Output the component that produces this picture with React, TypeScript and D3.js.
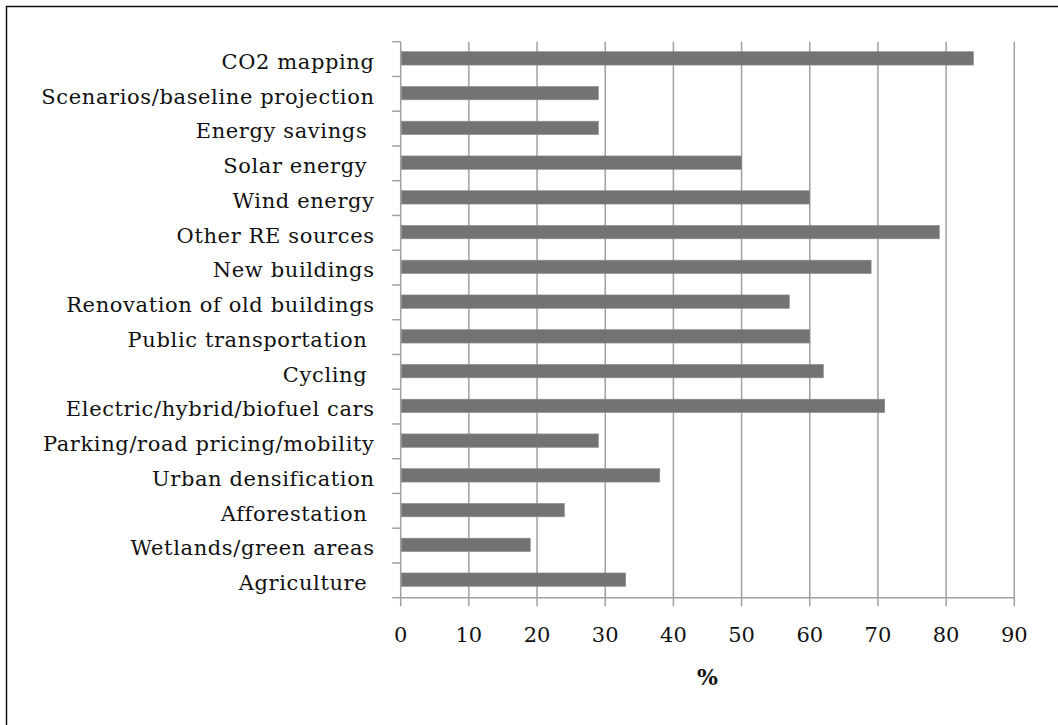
import React, { useEffect, useRef } from "react";
import * as d3 from "d3";

const categories = [
  "CO2 mapping",
  "Scenarios/baseline projection",
  "Energy savings ",
  "Solar energy ",
  "Wind energy",
  "Other RE sources",
  "New buildings",
  "Renovation of old buildings",
  "Public transportation ",
  "Cycling ",
  "Electric/hybrid/biofuel cars",
  "Parking/road pricing/mobility",
  "Urban densification",
  "Afforestation ",
  "Wetlands/green areas",
  "Agriculture ",
];
const values = [84, 29, 29, 50, 60, 79, 69, 57, 60, 62, 71, 29, 38, 24, 19, 33];
const xTicks = [0, 10, 20, 30, 40, 50, 60, 70, 80, 90];
const xLabel = "%";

const W = 1058;
const H = 725;
const M = { left: 400.7, right: 1014.3, top: 41.7, bottom: 597.7 };
const FONT = "'DejaVu Serif', serif";

export default function App() {
  const ref = useRef<SVGSVGElement>(null);
  useEffect(() => {
    const svg = d3.select(ref.current);
    svg.selectAll("*").remove();

    const x = d3.scaleLinear().domain([0, 90]).range([M.left, M.right]);
    const y = d3.scaleBand<string>().domain(categories).range([M.top, M.bottom]).paddingInner(0).paddingOuter(0);
    const bw = y.bandwidth();
    const barH = bw * 0.385;
    const grid = "#a0a0a0";

    // frame
    svg.append("path").attr("d", `M6.5,${H + 5} V6.5 H${W + 5}`).attr("fill", "none").attr("stroke", "#111").attr("stroke-width", 1.5);

    // gridlines
    svg.append("g").selectAll("line").data(xTicks).join("line")
      .attr("x1", (d) => x(d)).attr("x2", (d) => x(d))
      .attr("y1", M.top).attr("y2", M.bottom + 8.5)
      .attr("stroke", grid).attr("stroke-width", 1.5);

    // y axis ticks (band boundaries)
    const bounds = d3.range(categories.length + 1).map((i) => M.top + i * bw);
    svg.append("g").selectAll("line").data(bounds).join("line")
      .attr("x1", M.left - 8.5).attr("x2", M.left)
      .attr("y1", (d) => d).attr("y2", (d) => d)
      .attr("stroke", grid).attr("stroke-width", 1.5);

    // x axis line
    svg.append("line").attr("x1", M.left).attr("x2", M.right)
      .attr("y1", M.bottom).attr("y2", M.bottom)
      .attr("stroke", grid).attr("stroke-width", 1.5);

    // bars
    svg.append("g").selectAll("rect").data(values).join("rect")
      .attr("x", x(0) + 0.75)
      .attr("y", (_d, i) => (y(categories[i]) as number) + bw / 2 - barH / 2 - 0.7)
      .attr("width", (d) => x(d) - x(0) - 0.75)
      .attr("height", barH)
      .attr("fill", "#737373")
      .attr("stroke", "#8c8c8c")
      .attr("stroke-width", 0.6);

    // category labels
    svg.append("g").selectAll("text").data(categories).join("text")
      .attr("x", 374.6)
      .attr("y", (d) => (y(d) as number) + bw / 2 + 9.7)
      .attr("text-anchor", "end")
      .style("white-space", "pre")
      .attr("letter-spacing", 0.62)
      .attr("font-family", FONT)
      .attr("font-size", 21)
      .attr("fill", "#111")
      .text((d) => d);

    // x tick labels
    svg.append("g").selectAll("text").data(xTicks).join("text")
      .attr("x", (d) => x(d))
      .attr("y", 641.5)
      .attr("text-anchor", "middle")
      .attr("font-family", FONT)
      .attr("font-size", 21)
      .attr("fill", "#111")
      .text((d) => String(d));

    svg.append("text")
      .attr("x", (M.left + M.right) / 2)
      .attr("y", 685)
      .attr("text-anchor", "middle")
      .attr("font-family", FONT)
      .attr("font-size", 22)
      .attr("font-weight", "bold")
      .attr("fill", "#111")
      .text(xLabel);
  }, []);

  return (
    <svg
      ref={ref}
      width={W}
      height={H}
      style={{ position: "absolute", left: 0, top: 0, background: "#fff" }}
    />
  );
}
